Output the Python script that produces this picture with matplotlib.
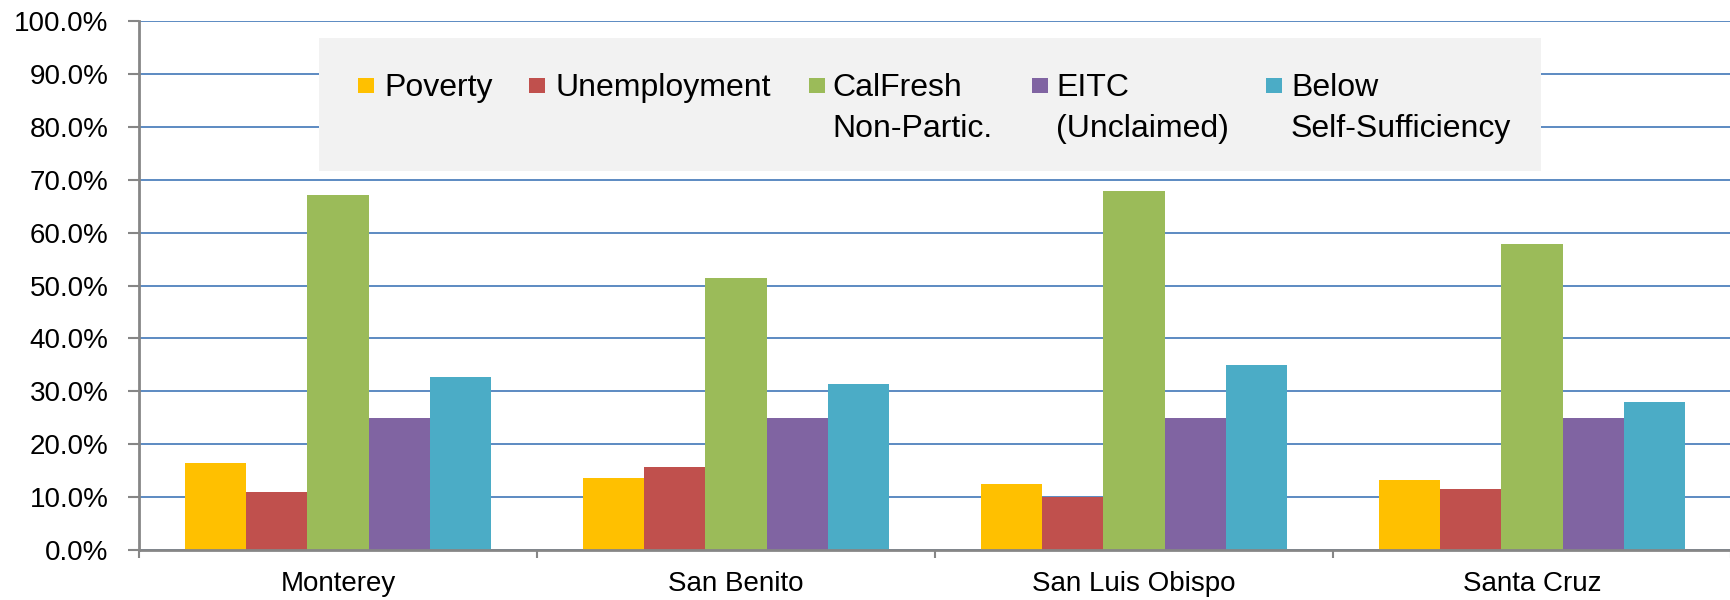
import matplotlib
matplotlib.use("Agg")
import matplotlib.pyplot as plt
from matplotlib.patches import Rectangle
from matplotlib.ticker import FixedLocator, PercentFormatter

categories = ["Monterey", "San Benito", "San Luis Obispo", "Santa Cruz"]
series_names = ["Poverty", "Unemployment", "CalFresh\nNon-Partic.", "EITC\n(Unclaimed)", "Below\nSelf-Sufficiency"]
poverty = [16.4, 13.7, 12.4, 13.3]
unemployment = [11.0, 15.7, 10.1, 11.5]
calfresh = [67.2, 51.4, 67.9, 57.9]
eitc = [25.0, 25.0, 25.0, 25.0]
self_suff = [32.7, 31.4, 35.0, 28.0]
series_values = [poverty, unemployment, calfresh, eitc, self_suff]
colors = ["#FFC000", "#C0504D", "#9BBB59", "#8064A2", "#4BACC6"]
yticks = [0, 10, 20, 30, 40, 50, 60, 70, 80, 90, 100]

W, H = 1731, 600
fig = plt.figure(figsize=(W / 100, H / 100), dpi=100)
ax = fig.add_axes([139 / W, 1 - 550 / H, (W - 139) / W, (550 - 21) / H])

n = len(series_values)
bw = 1 / (n + 1.5)
for i, (vals, c) in enumerate(zip(series_values, colors)):
    xs = [k + (i - (n - 1) / 2) * bw for k in range(len(categories))]
    ax.bar(xs, vals, width=bw, color=c, edgecolor="none", zorder=3)

ax.set_xlim(-0.5, len(categories) - 0.5)
ax.set_ylim(0, 100)
ax.set_yticks(yticks)
ax.yaxis.set_major_formatter(PercentFormatter(decimals=1))
ax.set_xticks(range(len(categories)))
ax.set_xticklabels(categories, fontsize=20, family=["Liberation Sans", "DejaVu Sans"])
ax.xaxis.set_minor_locator(FixedLocator([k - 0.5 for k in range(len(categories) + 1)]))
ax.tick_params(axis="x", which="major", length=0, pad=15)
ax.tick_params(axis="x", which="minor", length=6, width=1.5, color="#868686", direction="out")
ax.tick_params(axis="y", length=8, width=1.5, color="#868686", pad=14, labelsize=20)
for lbl in ax.get_yticklabels():
    lbl.set_family(["Liberation Sans", "DejaVu Sans"])

ax.grid(axis="y", color="#4F81BD", linewidth=1.3, zorder=0)
ax.set_axisbelow(True)
for s in ["top", "right"]:
    ax.spines[s].set_visible(False)
for s in ["left", "bottom"]:
    ax.spines[s].set_color("#868686")
    ax.spines[s].set_linewidth(2)
    ax.spines[s].set_zorder(4)

# legend box drawn in figure pixel space
lx0, ly0, lx1, ly1 = 319, 38, 1541, 171
fig.patches.append(Rectangle((lx0 / W, 1 - ly1 / H), (lx1 - lx0) / W, (ly1 - ly0) / H,
                             transform=fig.transFigure, facecolor="#F2F2F2", edgecolor="none", zorder=5))
marker_x = [358, 529, 809, 1032, 1266]
text_x = [384, 556, 832, 1056, 1291]
baselines = [96, 137]
for name, c, mx, tx in zip(series_names, colors, marker_x, text_x):
    fig.patches.append(Rectangle((mx / W, 1 - 93 / H), 16 / W, 15 / H, transform=fig.transFigure,
                                 facecolor=c, edgecolor="none", zorder=6))
    for j, line in enumerate(name.split("\n")):
        fig.text(tx / W, 1 - baselines[j] / H, line, fontsize=23, va="baseline", ha="left",
                 family=["Liberation Sans", "DejaVu Sans"], zorder=7)

fig.savefig("out.png", dpi=100)
